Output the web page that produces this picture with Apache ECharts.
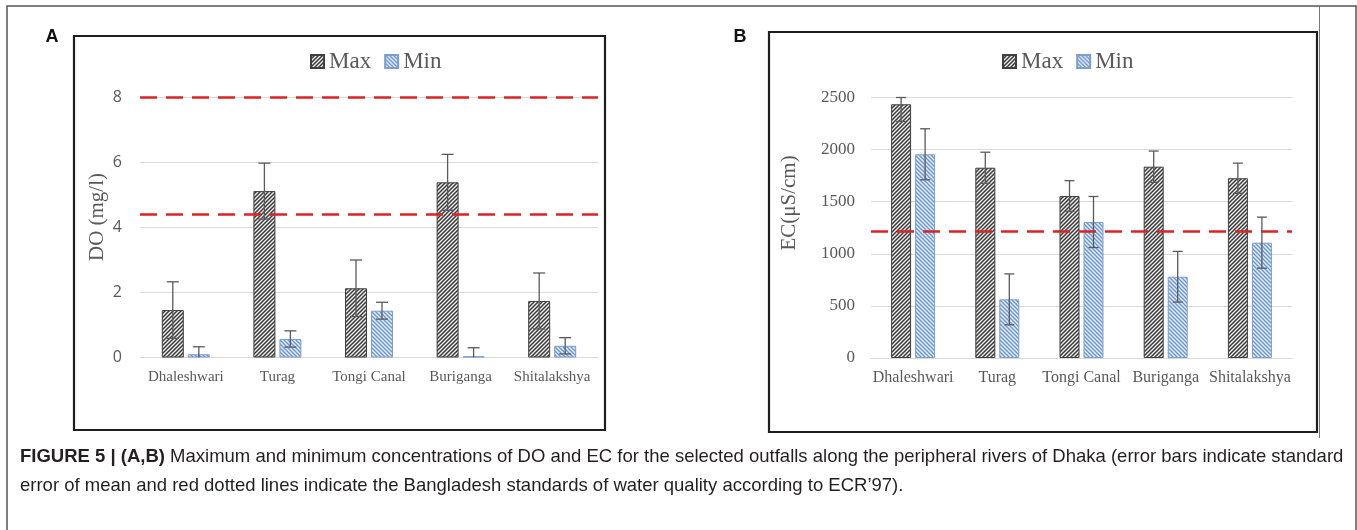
<!DOCTYPE html>
<html><head><meta charset="utf-8">
<script src="https://cdn.jsdelivr.net/npm/echarts@6/dist/echarts.min.js"></script>
<style>html,body{margin:0;padding:0;background:#fff;}#c{width:1357px;height:530px;}</style>
</head><body><div id="c"></div>
<script>
// ---------- data ----------
const categories = ['Dhaleshwari', 'Turag', 'Tongi Canal', 'Buriganga', 'Shitalakshya'];
const seriesNames = ['Max', 'Min'];
// Panel A: DO (mg/l)
const doMax = [1.46, 5.12, 2.13, 5.39, 1.74];
const doMaxErr = [0.87, 0.86, 0.87, 0.86, 0.86];
const doMin = [0.10, 0.57, 1.44, 0.04, 0.36];
const doMinErr = [0.23, 0.25, 0.26, 0.26, 0.25];
const doStandards = [8.0, 4.4];
const doTicks = [0, 2, 4, 6, 8];
// Panel B: EC (µS/cm)
const ecMax = [2435, 1826, 1555, 1836, 1725];
const ecMaxErr = [165, 149, 147, 150, 145];
const ecMin = [1955, 563, 1305, 780, 1107];
const ecMinErr = [245, 244, 245, 243, 245];
const ecStandards = [1220];
const ecTicks = [0, 500, 1000, 1500, 2000, 2500];

const captionBold = 'FIGURE 5 | (A,B)';
const captionLine1 = ' Maximum and minimum concentrations of DO and EC for the selected outfalls along the peripheral rivers of Dhaka (error bars indicate standard';
const captionLine2 = 'error of mean and red dotted lines indicate the Bangladesh standards of water quality according to ECR\u201997).';

// ---------- patterns ----------
function hatch(bg, fg, dir, size, lw) {
  const c = document.createElement('canvas');
  c.width = size; c.height = size;
  const g = c.getContext('2d');
  g.fillStyle = bg; g.fillRect(0, 0, size, size);
  g.strokeStyle = fg; g.lineWidth = lw;
  const seg = (x1, y1, x2, y2) => { g.beginPath(); g.moveTo(x1, y1); g.lineTo(x2, y2); g.stroke(); };
  if (dir === '/') {
    seg(-1, size + 1, size + 1, -1);
    seg(-1, 1, 1, -1);
    seg(size - 1, size + 1, size + 1, size - 1);
  } else {
    seg(-1, -1, size + 1, size + 1);
    seg(size - 1, -1, size + 1, 1);
    seg(-1, size - 1, 1, size + 1);
  }
  return { image: c, repeat: 'repeat' };
}
const maxFill = hatch('#eeeeee', '#3a3a3a', '/', 4, 1.5);
const minFill = hatch('#e4eefa', '#6a94cf', '\\', 4, 1.3);

// ---------- helpers ----------
function barSeries(name, idx, vals, fill, border, bw, gapPct, marks) {
  const s = {
    type: 'bar', name: name, xAxisIndex: idx, yAxisIndex: idx,
    data: vals, barWidth: bw, barGap: gapPct,
    itemStyle: { color: fill, borderColor: border, borderWidth: 1 },
    silent: true, z: 2
  };
  if (marks) {
    s.markLine = {
      silent: true, symbol: 'none', label: { show: false },
      lineStyle: { color: '#dc2224', width: 2.6, type: [17, 9] },
      data: marks.map(v => ({ yAxis: v }))
    };
  }
  return s;
}
function errSeries(idx, vals, errs, side, bw, gap, capW, axisMax) {
  return {
    type: 'custom', name: 'err' + idx + side, xAxisIndex: idx, yAxisIndex: idx, z: 6, silent: true,
    data: vals.map((v, i) => [i, v, errs[i]]),
    renderItem: function (params, api) {
      const i = api.value(0), v = api.value(1), e = api.value(2);
      const hi = Math.min(v + e, axisMax), lo = Math.max(v - e, 0);
      const x = api.coord([i, v])[0] + side * (bw + gap) / 2;
      const yHi = api.coord([i, hi])[1], yLo = api.coord([i, lo])[1];
      const st = { stroke: '#5a5a5a', lineWidth: 1.3 };
      const ch = [
        { type: 'line', shape: { x1: x, y1: yHi, x2: x, y2: yLo }, style: st },
        { type: 'line', shape: { x1: x - capW / 2, y1: yHi, x2: x + capW / 2, y2: yHi }, style: st }
      ];
      if (v - e > 0) ch.push({ type: 'line', shape: { x1: x - capW / 2, y1: yLo, x2: x + capW / 2, y2: yLo }, style: st });
      return { type: 'group', children: ch };
    }
  };
}
const gridCol = '#d9d9d9';
const labCol = '#595959';
const serif = '"Liberation Serif", "DejaVu Serif", serif';
const capFont = '"Liberation Sans", Arial, sans-serif';

const bwA = 22, gapA = 4, bwB = 20, gapB = 4;

const option = {
  animation: false,
  backgroundColor: '#ffffff',
  grid: [
    { left: 140, right: 1357 - 598, top: 97.5, bottom: 530 - 357.5 },
    { left: 871, right: 1357 - 1292, top: 97.5, bottom: 530 - 358 }
  ],
  legend: [
    { data: seriesNames, left: 310, top: 50, padding: 0, icon: 'rect', itemWidth: 13, itemHeight: 13, itemGap: 13,
      textStyle: { fontFamily: serif, fontSize: 23, color: labCol }, selectedMode: false },
    { data: seriesNames, left: 1002, top: 50, padding: 0, icon: 'rect', itemWidth: 13, itemHeight: 13, itemGap: 13,
      textStyle: { fontFamily: serif, fontSize: 23, color: labCol }, selectedMode: false }
  ],
  xAxis: [
    { type: 'category', gridIndex: 0, data: categories,
      axisLine: { lineStyle: { color: gridCol, width: 1 } }, axisTick: { show: false },
      axisLabel: { fontFamily: serif, fontSize: 15, color: labCol, margin: 12, interval: 0 } },
    { type: 'category', gridIndex: 1, data: categories,
      axisLine: { lineStyle: { color: gridCol, width: 1 } }, axisTick: { show: false },
      axisLabel: { fontFamily: serif, fontSize: 16, color: labCol, margin: 12, interval: 0 } }
  ],
  yAxis: [
    { type: 'value', gridIndex: 0, min: doTicks[0], max: doTicks[doTicks.length - 1], interval: doTicks[1] - doTicks[0],
      axisLine: { show: false }, axisTick: { show: false },
      splitLine: { lineStyle: { color: gridCol, width: 1 } },
      axisLabel: { fontFamily: '"Open Sans", sans-serif', fontSize: 16, color: labCol, margin: 18 } },
    { type: 'value', gridIndex: 1, min: ecTicks[0], max: ecTicks[ecTicks.length - 1], interval: ecTicks[1] - ecTicks[0],
      axisLine: { show: false }, axisTick: { show: false },
      splitLine: { lineStyle: { color: gridCol, width: 1 } },
      axisLabel: { fontFamily: serif, fontSize: 17, color: labCol, margin: 16, formatter: v => String(v) } }
  ],
  series: [
    barSeries('Max', 0, doMax, maxFill, '#3f3f3f', bwA, (gapA / bwA * 100) + '%', doStandards),
    barSeries('Min', 0, doMin, minFill, '#7d9dcc', bwA, (gapA / bwA * 100) + '%'),
    barSeries('Max', 1, ecMax, maxFill, '#3f3f3f', bwB, (gapB / bwB * 100) + '%', ecStandards),
    barSeries('Min', 1, ecMin, minFill, '#7d9dcc', bwB, (gapB / bwB * 100) + '%'),
    errSeries(0, doMax, doMaxErr, -1, bwA, gapA, 12, doTicks[doTicks.length - 1]),
    errSeries(0, doMin, doMinErr, 1, bwA, gapA, 12, doTicks[doTicks.length - 1]),
    errSeries(1, ecMax, ecMaxErr, -1, bwB, gapB, 10, ecTicks[ecTicks.length - 1]),
    errSeries(1, ecMin, ecMinErr, 1, bwB, gapB, 10, ecTicks[ecTicks.length - 1])
  ],
  graphic: [
    { type: 'rect', shape: { x: 7, y: 6, width: 1349, height: 700 }, style: { fill: 'none', stroke: '#555', lineWidth: 1.5 }, z: 0, silent: true },
    { type: 'rect', shape: { x: 74, y: 36, width: 531, height: 394 }, style: { fill: 'none', stroke: '#1e1e1e', lineWidth: 2.2 }, z: 1, silent: true },
    { type: 'rect', shape: { x: 769, y: 32, width: 548, height: 400 }, style: { fill: 'none', stroke: '#1e1e1e', lineWidth: 2.2 }, z: 1, silent: true },
    { type: 'line', shape: { x1: 1319.5, y1: 6, x2: 1319.5, y2: 438 }, style: { stroke: '#777', lineWidth: 1 }, silent: true },
    { type: 'text', x: 52, y: 37, style: { text: 'A', font: 'bold 18px "Liberation Sans", Arial, sans-serif', fill: '#111', align: 'center', verticalAlign: 'middle' }, silent: true },
    { type: 'text', x: 740, y: 37, style: { text: 'B', font: 'bold 18px "Liberation Sans", Arial, sans-serif', fill: '#111', align: 'center', verticalAlign: 'middle' }, silent: true },
    { type: 'text', x: 97, y: 217, rotation: Math.PI / 2, style: { text: 'DO (mg/l)', font: '21px "Liberation Serif", serif', fill: labCol, align: 'center', verticalAlign: 'middle' }, silent: true },
    { type: 'text', x: 789, y: 203, rotation: Math.PI / 2, style: { text: 'EC(\u03bcS/cm)', font: '21px "Liberation Serif", serif', fill: labCol, align: 'center', verticalAlign: 'middle' }, silent: true },
    { type: 'text', x: 20, y: 457, style: {
        text: '{b|' + captionBold + '}{r|' + captionLine1 + '}',
        rich: { b: { font: 'bold 18.5px ' + capFont, fill: '#231f20' }, r: { font: '18.5px ' + capFont, fill: '#231f20' } },
        verticalAlign: 'middle' }, silent: true },
    { type: 'text', x: 20, y: 486, style: { text: captionLine2, font: '18.5px ' + capFont, fill: '#231f20', verticalAlign: 'middle' }, silent: true }
  ]
};
const chart = echarts.init(document.getElementById('c'), null, { renderer: 'canvas' });
chart.setOption(option);
</script></body></html>
